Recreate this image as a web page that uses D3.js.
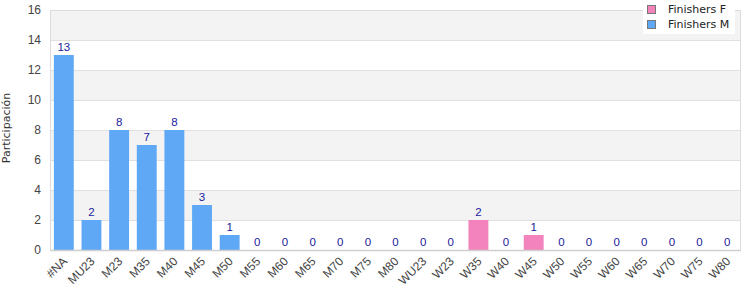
<!DOCTYPE html>
<html>
<head>
<meta charset="utf-8">
<script src="https://cdn.jsdelivr.net/npm/d3@7"></script>
<style>
  body { margin: 0; background: #fff; }
  text { font-family: "Liberation Sans", Arial, sans-serif; }
</style>
</head>
<body>
<div class="container"></div>
<script>
const categories = ["#NA", "MU23", "M23", "M35", "M40", "M45", "M50", "M55", "M60", "M65", "M70", "M75", "M80",
  "WU23", "W23", "W35", "W40", "W45", "W50", "W55", "W60", "W65", "W70", "W75", "W80"];
const finishersM = [13, 2, 8, 7, 8, 3, 1, 0, 0, 0, 0, 0, 0, 0, 0, 0, 0, 0, 0, 0, 0, 0, 0, 0, 0];
const finishersF = [0, 0, 0, 0, 0, 0, 0, 0, 0, 0, 0, 0, 0, 0, 0, 2, 0, 1, 0, 0, 0, 0, 0, 0, 0];
const yTicks = [0, 2, 4, 6, 8, 10, 12, 14, 16];

const width = 750, height = 300;
const margin = { top: 10, right: 9, bottom: 50, left: 50 };
const colorF = "#f383bd", colorM = "#5fa8f5";

const svg = d3.select(".container")
  .append("svg")
  .attr("width", width)
  .attr("height", height);

const x = d3.scaleBand()
  .domain(categories)
  .range([margin.left, width - margin.right])
  .paddingInner(0.28)
  .paddingOuter(0.14);

const y = d3.scaleLinear()
  .domain([0, 16])
  .range([height - margin.bottom, margin.top]);

// alternating bands
const bands = d3.range(0, 16, 2);
svg.append("g")
  .selectAll("rect")
  .data(bands)
  .join("rect")
  .attr("x", margin.left)
  .attr("width", width - margin.right - margin.left)
  .attr("y", d => y(d + 2))
  .attr("height", d => y(d) - y(d + 2))
  .attr("fill", d => (d / 2) % 2 === 1 ? "#f3f3f3" : "#fff");

// grid lines
svg.append("g")
  .selectAll("line")
  .data(yTicks)
  .join("line")
  .attr("x1", margin.left)
  .attr("x2", width - margin.right)
  .attr("y1", d => y(d) + 0.5)
  .attr("y2", d => y(d) + 0.5)
  .attr("stroke", "#e0e0e0");

// plot frame
svg.append("rect")
  .attr("x", margin.left + 0.5)
  .attr("y", margin.top + 0.5)
  .attr("width", width - margin.right - margin.left - 1)
  .attr("height", height - margin.bottom - margin.top)
  .attr("fill", "none")
  .attr("stroke", "#dcdcdc");

// bars, stacked F under M
const data = categories.map((c, i) => ({ cat: c, f: finishersF[i], m: finishersM[i] }));
const barG = svg.append("g");
barG.selectAll(".barF")
  .data(data)
  .join("rect")
  .attr("class", "barF")
  .attr("x", d => x(d.cat))
  .attr("width", x.bandwidth())
  .attr("y", d => y(d.f))
  .attr("height", d => y(0) - y(d.f))
  .attr("fill", colorF);
barG.selectAll(".barM")
  .data(data)
  .join("rect")
  .attr("class", "barM")
  .attr("x", d => x(d.cat))
  .attr("width", x.bandwidth())
  .attr("y", d => y(d.f + d.m))
  .attr("height", d => y(d.f) - y(d.f + d.m))
  .attr("fill", colorM);

// value labels
svg.append("g")
  .selectAll("text")
  .data(data)
  .join("text")
  .attr("x", d => x(d.cat) + x.bandwidth() / 2)
  .attr("y", d => y(d.f + d.m) - 4)
  .attr("text-anchor", "middle")
  .attr("font-size", 11.5)
  .attr("fill", "#1a1a9e")
  .text(d => d.f + d.m);

// bottom axis line
svg.append("line")
  .attr("x1", margin.left)
  .attr("x2", width - margin.right)
  .attr("y1", y(0) + 0.5)
  .attr("y2", y(0) + 0.5)
  .attr("stroke", "#cfcfcf")
  .attr("stroke-width", 1.5);

// y axis
const yAxis = svg.append("g")
  .attr("transform", `translate(${margin.left},0)`)
  .call(d3.axisLeft(y).tickValues(yTicks).tickSize(0).tickPadding(9));
yAxis.select(".domain").remove();
yAxis.selectAll("text").attr("font-size", 12).attr("fill", "#444")
  .style("font-family", "Liberation Sans, Arial, sans-serif");

// x axis
const xAxis = svg.append("g")
  .attr("transform", `translate(0,${y(0)})`)
  .call(d3.axisBottom(x).tickSize(0).tickPadding(0));
xAxis.select(".domain").remove();
xAxis.selectAll("text")
  .attr("font-size", 12)
  .attr("fill", "#444")
  .style("font-family", "Liberation Sans, Arial, sans-serif")
  .attr("text-anchor", "end")
  .attr("dy", 0)
  .attr("transform", "translate(4,12) rotate(-45)");

// y title
svg.append("text")
  .attr("transform", `translate(10,${(margin.top + height - margin.bottom) / 2 - 2}) rotate(-90)`)
  .attr("text-anchor", "middle")
  .attr("font-size", 11)
  .attr("fill", "#333")
  .style("font-family", "DejaVu Sans, sans-serif")
  .text("Participación");

// legend
const legend = svg.append("g").attr("transform", "translate(643,0)");
legend.append("rect")
  .attr("width", 92).attr("height", 34).attr("fill", "#fff");
[["Finishers F", colorF], ["Finishers M", colorM]].forEach(([label, c], i) => {
  legend.append("rect")
    .attr("x", 4.5).attr("y", 5.5 + i * 15)
    .attr("width", 8).attr("height", 8)
    .attr("fill", c).attr("stroke", "#777");
  legend.append("text")
    .attr("x", 25).attr("y", 13 + i * 15)
    .attr("font-size", 11)
    .attr("fill", "#222")
    .style("font-family", "DejaVu Sans, sans-serif")
    .text(label);
});
</script>
</body>
</html>
